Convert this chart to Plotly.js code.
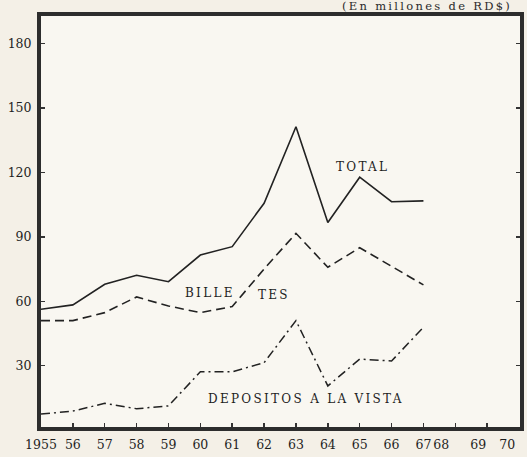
<!DOCTYPE html>
<html>
<head>
<meta charset="utf-8">
<script src="https://cdn.plot.ly/plotly-3.0.1.min.js"></script>
<style>
  html, body { margin: 0; padding: 0; background: #f4f0e7; }
  #chart { width: 527px; height: 457px; }
  .annotation-text { letter-spacing: 2.3px; }
  .annotation[data-index="5"] .annotation-text,
  .annotation[data-index="6"] .annotation-text,
  .annotation[data-index="7"] .annotation-text { letter-spacing: 0; }
</style>
</head>
<body>
<div id="chart"></div>
<script>
// Years and tick labels
var years = [1955, 1956, 1957, 1958, 1959, 1960, 1961, 1962, 1963, 1964, 1965, 1966, 1967];
var tickYears = [1955, 1956, 1957, 1958, 1959, 1960, 1961, 1962, 1963, 1964, 1965, 1966, 1967, 1968, 1969, 1970];
var tickLabels = ["1955", "56", "57", "58", "59", "60", "61", "62", "63", "64", "65", "66", "67", "", "", ""];
// The last three year labels sit slightly left of their ticks in the original
var lateYearLabels = ["68", "69", "70"];
var lateYearPos = [1967.58, 1968.74, 1969.65];
var yTicks = [30, 60, 90, 120, 150, 180];

// Series (millones de RD$)
var total      = [56.3, 58.3, 67.9, 72.1, 69.1, 81.5, 85.4, 105.6, 141.2, 96.6, 117.7, 106.3, 106.7];
var billetes   = [51.0, 51.0, 54.7, 62.0, 57.8, 54.7, 57.5, 75.0, 91.6, 75.8, 84.9, 76.1, 67.6];
var depositos  = [7.5, 8.9, 12.5, 10.0, 11.3, 27.2, 27.2, 31.4, 51.0, 20.6, 33.1, 32.2, 47.9];

// Labels
var labelTotal = "TOTAL";
var labelBille = "BILLE";
var labelTes = "TES";
var labelDep = "DEPOSITOS A LA VISTA";
var headerText = "(En millones de RD$)";

var ink = "#222222";
var serif = "DejaVu Serif, serif";

var traces = [
  { x: years, y: total, type: "scatter", mode: "lines", name: "Total",
    line: { color: ink, width: 1.6 }, hoverinfo: "skip" },
  { x: years, y: billetes, type: "scatter", mode: "lines", name: "Billetes",
    line: { color: ink, width: 1.6, dash: "9px,5px" }, hoverinfo: "skip" },
  { x: years, y: depositos, type: "scatter", mode: "lines", name: "Depósitos a la vista",
    line: { color: ink, width: 1.5, dash: "9px,4px,2px,4px" }, hoverinfo: "skip" }
];

var annFont = { family: serif, size: 12, color: "#1e1e1e" };
var tickFont = { family: serif, size: 12.5, color: "#1e1e1e" };

var annotations = [
  { x: 1965.1, y: 122.5, xref: "x", yref: "y", text: labelTotal, showarrow: false, font: annFont },
  { x: 1960.3, y: 64, xref: "x", yref: "y", text: labelBille, showarrow: false, font: annFont },
  { x: 1962.3, y: 62.9, xref: "x", yref: "y", text: labelTes, showarrow: false, font: annFont },
  { x: 1963.3, y: 14.4, xref: "x", yref: "y", text: labelDep, showarrow: false, font: annFont },
  { x: 0.806, y: 1.0243, xref: "paper", yref: "paper", xanchor: "center", yanchor: "middle",
    text: headerText, showarrow: false,
    font: { family: serif, size: 11.5, color: "#2a2a2a" } }
];
for (var i = 0; i < lateYearLabels.length; i++) {
  annotations.push({ x: lateYearPos[i], y: -0.0414, xref: "x", yref: "paper",
    xanchor: "center", yanchor: "middle", text: lateYearLabels[i], showarrow: false, font: tickFont });
}

var layout = {
  width: 527, height: 457,
  margin: { l: 41, r: 7, t: 16, b: 30 },
  paper_bgcolor: "#f4f0e7",
  plot_bgcolor: "#f9f7f1",
  showlegend: false,
  xaxis: {
    range: [1955, 1970.03],
    tickvals: tickYears, ticktext: tickLabels,
    ticks: "inside", ticklen: 4, tickwidth: 1.5, tickcolor: "#333",
    showline: true, linewidth: 4, linecolor: "#2d2d2d", mirror: true,
    showgrid: false, zeroline: false,
    ticklabelstandoff: 3,
    tickfont: tickFont
  },
  yaxis: {
    range: [1.5, 192.7],
    tickvals: yTicks,
    ticks: "inside", ticklen: 4, tickwidth: 1.5, tickcolor: "#333",
    showline: true, linewidth: 4, linecolor: "#2d2d2d", mirror: "ticks",
    showgrid: false, zeroline: false,
    ticklabelstandoff: 3,
    tickfont: tickFont
  },
  annotations: annotations
};

Plotly.newPlot("chart", traces, layout, { displayModeBar: false, staticPlot: true });
</script>
</body>
</html>
